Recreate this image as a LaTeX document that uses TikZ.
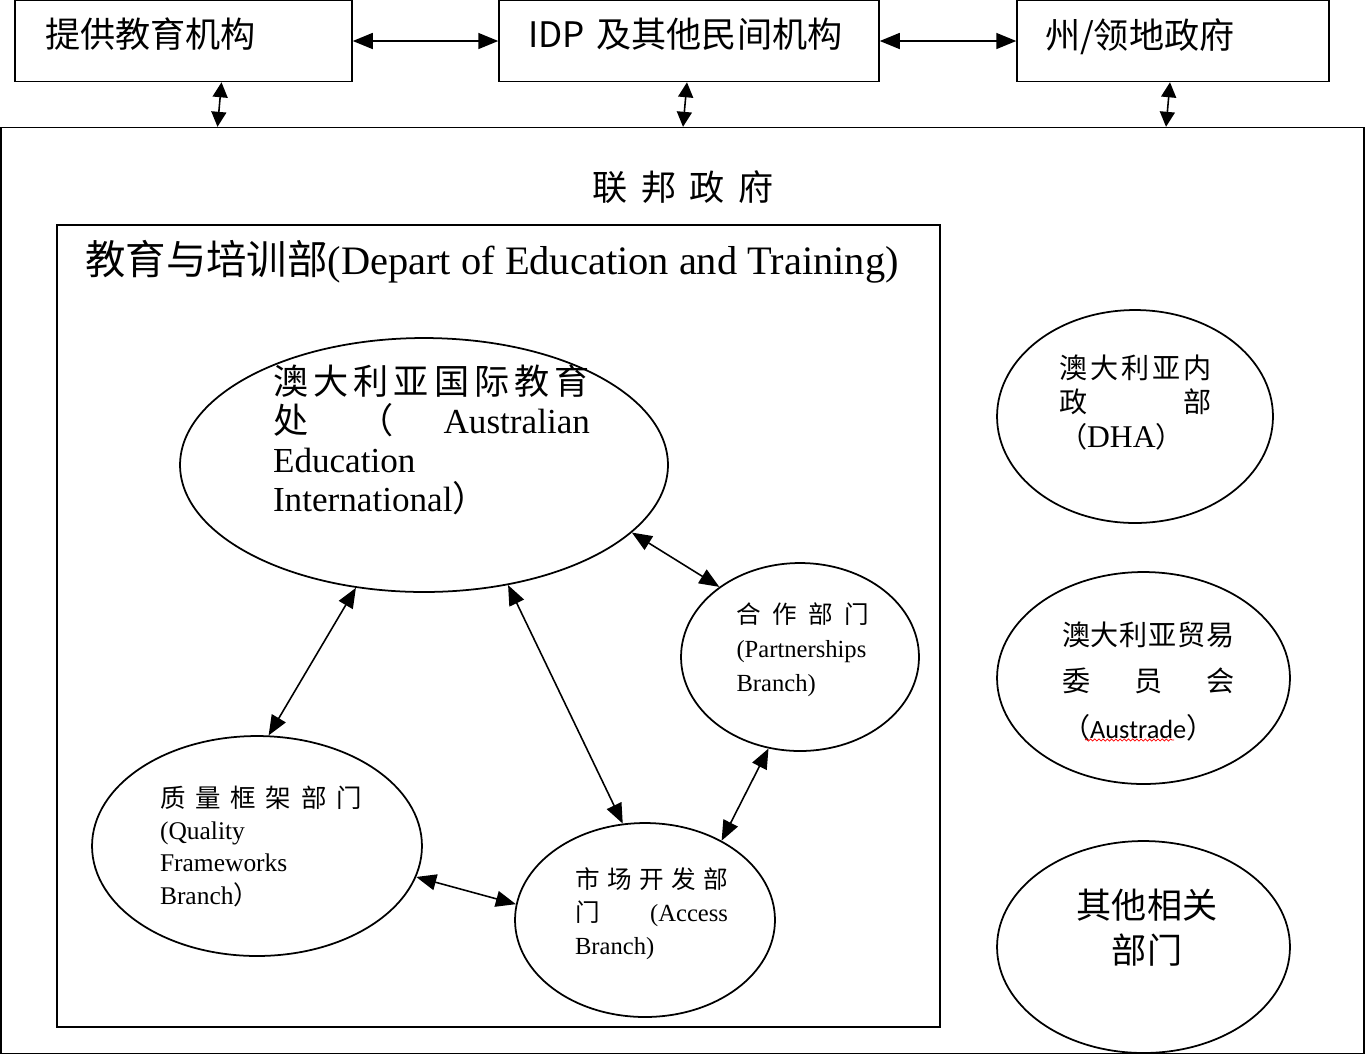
\documentclass[tikz,border=0pt]{standalone}
\usepackage{fontspec}
\setmainfont{Liberation Serif}
\newfontfamily\zh{Noto Sans CJK SC}
\newfontfamily\calfont{Carlito}
\usetikzlibrary{arrows.meta,shapes.geometric,decorations.pathmorphing}

\newcommand\fs[2]{\fontsize{#1}{#2}\selectfont}

\begin{document}
\begin{tikzpicture}[x=0.02cm,y=-0.02cm,
  >={Triangle[length=0.4cm,width=0.32cm]},
  box/.style={rectangle,draw=black,line width=0.9pt,inner sep=0pt},
  topbox/.style={box,minimum height=1.62cm,text depth=9pt,align=left,font=\zh\fs{20}{24}},
  oval/.style={ellipse,draw=black,line width=1pt,inner sep=0pt},
  txt/.style={inner sep=0pt,align=left},
  link/.style={<->,line width=0.9pt},
  shortlink/.style={{Triangle[length=0.3cm,width=0.3cm]}-{Triangle[length=0.3cm,width=0.3cm]},line width=0.9pt}]
  \useasboundingbox (0,0) rectangle (1365,1056);

  % top row
  \node[topbox,minimum width=6.74cm,text width=5.54cm] (edu) at (183.5,41) {提供教育机构};
  \node[topbox,minimum width=7.6cm,text width=6.44cm] (idp) at (689,41) {IDP 及其他民间机构};
  \node[topbox,minimum width=6.24cm,text width=5.12cm] (state) at (1173,41) {州/领地政府};

  % federal frame
  \node[box,minimum width=27.26cm,minimum height=18.52cm] (fed) at (682.5,590.5) {};
  \node[inner sep=0pt,font=\zh\fs{20}{24}] (fedname) at (683,187)
    {联\hspace{0.27cm}邦\hspace{0.27cm}政\hspace{0.27cm}府};

  \node[box,minimum width=17.66cm,minimum height=16.04cm] (dept) at (498.5,626) {};
  \node[txt,anchor=west,font=\fs{23}{26}] (depttitle) at (85,262)
    {{\zh 教育与培训部}(Depart of Education and Training)};

  % branches
  \node[oval,minimum width=9.76cm,minimum height=5.08cm] (aei) at (424,465) {};
  \node[txt,text width=6.34cm,font=\fs{20}{22.2}] (aeitxt) at (431.5,440)
    {{\zh 澳\hfill 大\hfill 利\hfill 亚\hfill 国\hfill 际\hfill 教\hfill 育}\\
     {\zh 处}\hfill{\zh （}\hfill Australian\\
     Education\\
     International{\zh ）}};

  \node[oval,minimum width=4.76cm,minimum height=3.76cm] (part) at (800,657) {};
  \node[txt,text width=2.66cm,font=\fs{14}{19.5}] (parttxt) at (803,649.5)
    {{\zh 合\hfill 作\hfill 部\hfill 门}\\
     (Partnerships\\
     Branch)};

  \node[oval,minimum width=6.6cm,minimum height=4.4cm] (qual) at (257,846) {};
  \node[txt,text width=4.04cm,font=\fs{14.5}{18.4}] (qualtxt) at (261,846)
    {{\zh 质\hfill 量\hfill 框\hfill 架\hfill 部\hfill 门}\\
     (Quality\\
     Frameworks\\
     Branch{\zh ）}};

  \node[oval,minimum width=5.2cm,minimum height=3.88cm] (mkt) at (645,920) {};
  \node[txt,text width=3.06cm,font=\fs{14}{18.8}] (mkttxt) at (651.5,914)
    {{\zh 市\hfill 场\hfill 开\hfill 发\hfill 部}\\
     {\zh 门}\hfill(Access\\
     Branch)};

  % other departments
  \node[oval,minimum width=5.52cm,minimum height=4.26cm] (dha) at (1135,416.5) {};
  \node[txt,text width=3.06cm,font=\fs{16}{19.6}] (dhatxt) at (1135.5,402.5)
    {{\zh 澳\hfill 大\hfill 利\hfill 亚\hfill 内}\\
     {\zh 政}\hfill{\zh 部}\\
     {\zh （}{\fs{18}{19.6}DHA}{\zh ）}};

  \node[oval,minimum width=5.86cm,minimum height=4.24cm] (trade) at (1143.5,678) {};
  \node[txt,text width=3.46cm,font=\fs{16}{26.5}] (tradetxt) at (1148.5,681.5)
    {{\zh 澳\hfill 大\hfill 利\hfill 亚\hfill 贸\hfill 易}\\
     {\zh 委}\hfill{\zh 员}\hfill{\zh 会}\\
     {\zh （}{\calfont\fs{15}{26.5}Austrade}{\zh ）}};
  \draw[red,line width=0.4pt,decorate,decoration={snake,amplitude=0.6pt,segment length=2.4pt}]
    (1085,740) -- (1174,740);

  \node[oval,minimum width=5.86cm,minimum height=4.24cm] (other) at (1143.5,947) {};
  \node[inner sep=0pt,align=center,font=\zh\fs{20}{25.6}] (othertxt) at (1147,927.5)
    {其他相关\\部门};

  % links
  \draw[link] (edu.east) -- (idp.west);
  \draw[link] (idp.east) -- (state.west);
  \draw[shortlink] ([xshift=0.76cm]edu.south) -- ([xshift=0.68cm]edu.south |- fed.north);
  \draw[shortlink] ([xshift=-0.04cm]idp.south) -- ([xshift=-0.12cm]idp.south |- fed.north);
  \draw[shortlink] ([xshift=-0.06cm]state.south) -- ([xshift=-0.14cm]state.south |- fed.north);

  \draw[link] (aei.241) -- (qual.84);
  \draw[link] (aei.305) -- (mkt.103);
  \draw[link] (aei.342) -- (part.139);
  \draw[link] (part.251) -- (mkt.46);
  \draw[link] (qual.349) -- (mkt.173);
\end{tikzpicture}
\end{document}
